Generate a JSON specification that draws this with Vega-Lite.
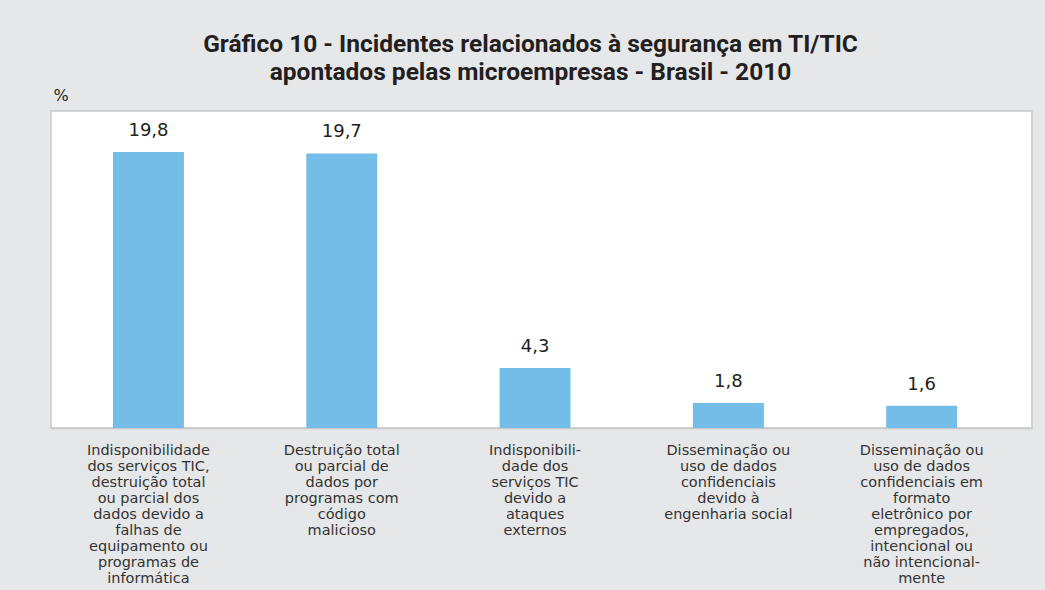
{
  "$schema": "https://vega.github.io/schema/vega-lite/v6.json",
  "autosize": {"type": "none"},
  "width": 981,
  "height": 317,
  "padding": {"left": 51, "top": 111, "right": 13, "bottom": 162},
  "background": "#e6e7e8",
  "title": {
    "text": ["Gráfico 10 - Incidentes relacionados à segurança em TI/TIC", "apontados pelas microempresas - Brasil - 2010"],
    "font": "Roboto",
    "fontSize": 24.5,
    "fontWeight": "bold",
    "color": "#231f20",
    "lineHeight": 28,
    "anchor": "middle",
    "dx": -11,
    "offset": 2
  },
  "data": {
    "values": [
      {"incidente": "Indisponibilidade\ndos serviços TIC,\ndestruição total\nou parcial dos\ndados devido a\nfalhas de\nequipamento ou\nprogramas de\ninformática", "valor": 19.8, "rotulo": "19,8"},
      {"incidente": "Destruição total\nou parcial de\ndados por\nprogramas com\ncódigo\nmalicioso", "valor": 19.7, "rotulo": "19,7"},
      {"incidente": "Indisponibili-\ndade dos\nserviços TIC\ndevido a\nataques\nexternos", "valor": 4.3, "rotulo": "4,3"},
      {"incidente": "Disseminação ou\nuso de dados\nconfidenciais\ndevido à\nengenharia social", "valor": 1.8, "rotulo": "1,8"},
      {"incidente": "Disseminação ou\nuso de dados\nconfidenciais em\nformato\neletrônico por\nempregados,\nintencional ou\nnão intencional-\nmente", "valor": 1.6, "rotulo": "1,6"}
    ]
  },
  "encoding": {
    "x": {
      "field": "incidente",
      "type": "nominal",
      "sort": null,
      "scale": {"paddingInner": 0.633, "paddingOuter": 0.354, "align": 0.453},
      "axis": {
        "title": null,
        "labelAngle": 0,
        "labelExpr": "split(datum.label, '\\n')",
        "labelFont": "DejaVu Sans",
        "labelFontSize": 14.5,
        "labelLineHeight": 16,
        "labelColor": "#333333",
        "labelPadding": 15,
        "labelLimit": 300,
        "labelBaseline": "top",
        "ticks": false,
        "domainColor": "#c8c8c8",
        "domainWidth": 1.5
      }
    },
    "y": {
      "field": "valor",
      "type": "quantitative",
      "scale": {"domain": [0, 22.75], "nice": false},
      "axis": {
        "title": "%",
        "titleAngle": 0,
        "titleAlign": "left",
        "titleBaseline": "bottom",
        "titleX": 2,
        "titleY": -8,
        "titleFont": "DejaVu Sans",
        "titleFontSize": 16,
        "titleFontWeight": "normal",
        "titleColor": "#231f20",
        "labels": false,
        "ticks": false,
        "domain": false,
        "grid": false
      }
    }
  },
  "layer": [
    {"mark": {"type": "bar", "color": "#74bde8"}},
    {
      "mark": {"type": "text", "baseline": "bottom", "dy": -12, "font": "DejaVu Sans", "fontSize": 18, "color": "#231f20"},
      "encoding": {"text": {"field": "rotulo"}}
    }
  ],
  "config": {
    "view": {"fill": "#ffffff", "stroke": "#c8c8c8", "strokeWidth": 1.5}
  }
}
